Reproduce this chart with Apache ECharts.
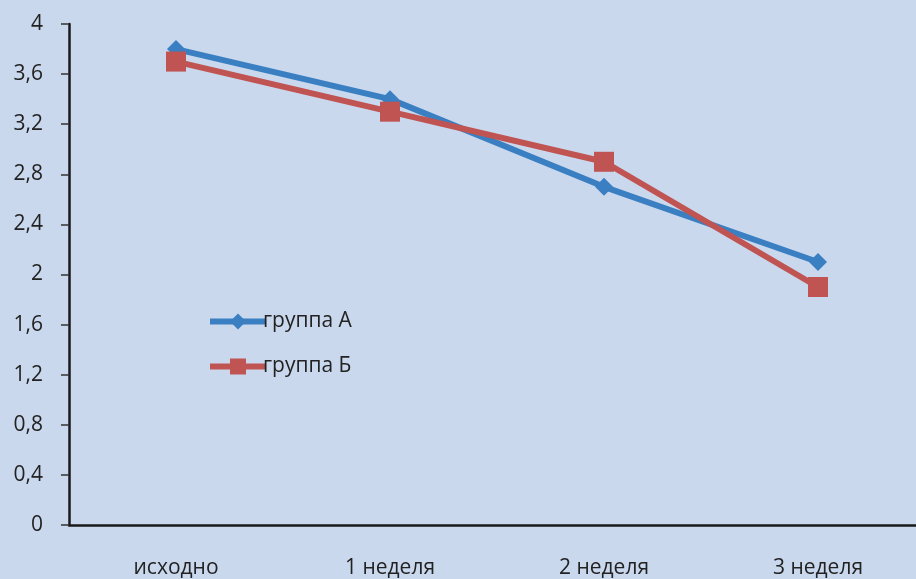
<!DOCTYPE html>
<html><head><meta charset="utf-8">
<script src="https://cdn.jsdelivr.net/npm/echarts@6/dist/echarts.min.js"></script>
<style>html,body{margin:0;padding:0;background:#cad8ee;overflow:hidden}#c{width:926px;height:579px}</style>
</head><body><div id="c"></div>
<script>
const categories = ['исходно', '1 неделя', '2 неделя', '3 неделя'];
const groupA = [3.8, 3.4, 2.7, 2.1];
const groupB = [3.7, 3.3, 2.9, 1.9];
const seriesNames = ['группа А', 'группа Б'];

const chart = echarts.init(document.getElementById('c'));
const font = '"Open Sans", "Noto Sans", sans-serif';
chart.setOption({
  backgroundColor: '#cad8ee',
  animation: false,
  grid: {left: 69, right: 1, top: 24, bottom: 54, containLabel: false},
  legend: {
    orient: 'vertical', left: 202, top: 306, itemWidth: 56, itemHeight: 20, itemGap: 24,
    lineStyle: {width: 6},
    textStyle: {fontFamily: font, fontSize: 21, color: '#222', padding: [0,0,0,-8]},
    data: seriesNames
  },
  xAxis: {
    type: 'category', data: categories, boundaryGap: true,
    axisLine: {lineStyle: {color: '#1a1a1a', width: 2.5}},
    axisTick: {length: 6, lineStyle: {color: '#333', width: 1.5}},
    axisLabel: {fontFamily: font, fontSize: 21, color: '#222', margin: 33}
  },
  yAxis: {
    type: 'value', min: 0, max: 4, interval: 0.4,
    axisLine: {show: true, lineStyle: {color: '#1a1a1a', width: 2.5}},
    axisTick: {show: true, length: 8, lineStyle: {color: '#333', width: 1.5}},
    splitLine: {show: false},
    axisLabel: {fontFamily: font, fontSize: 21, color: '#222', margin: 26,
      formatter: v => String(Math.round(v * 10) / 10).replace('.', ',')}
  },
  series: [
    {name: seriesNames[0], type: 'line', data: groupA, symbol: 'diamond', symbolSize: 18,
      lineStyle: {color: '#3a7fc1', width: 6}, itemStyle: {color: '#3a7fc1'}},
    {name: seriesNames[1], type: 'line', data: groupB, symbol: 'rect', symbolSize: 20,
      lineStyle: {color: '#bf5452', width: 6}, itemStyle: {color: '#bf5452'}}
  ]
});
</script></body></html>
